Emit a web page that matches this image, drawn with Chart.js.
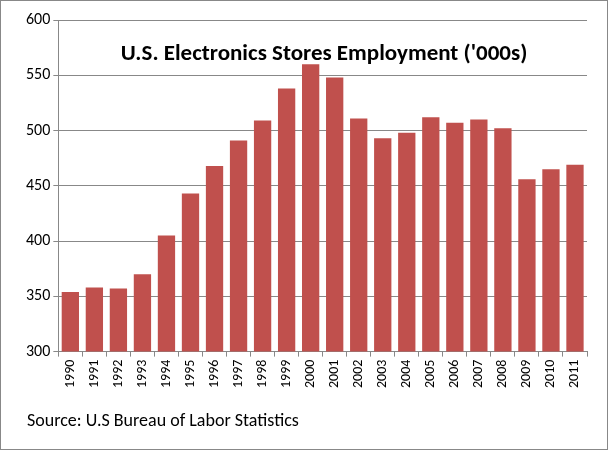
<!DOCTYPE html>
<html><head>
<script src="https://cdn.jsdelivr.net/npm/chart.js"></script>
<style>
body{margin:0;background:#fff;}
#wrap{position:relative;width:606px;height:448px;border:1px solid #888;font-family:Calibri,Carlito,"Liberation Sans",sans-serif;}
#title{position:absolute;left:60px;width:526px;top:37px;text-align:center;font-weight:bold;font-size:23px;color:#000;}
#src{position:absolute;left:26px;top:408px;font-size:18px;color:#000;}
</style></head>
<body>
<div id="wrap">
<canvas id="c" width="606" height="448"></canvas>
<div id="title">U.S. Electronics Stores Employment ('000s)</div>
<div id="src">Source: U.S Bureau of Labor Statistics</div>
</div>
<script>
const years=["1990","1991","1992","1993","1994","1995","1996","1997","1998","1999","2000","2001","2002","2003","2004","2005","2006","2007","2008","2009","2010","2011"];
const employment=[354,358,357,370,405,443,468,491,509,538,560,548,511,493,498,512,507,510,502,456,465,469];
new Chart(document.getElementById('c'),{
type:'bar',
data:{labels:years,datasets:[{data:employment,backgroundColor:'#C0504D',borderWidth:0,categoryPercentage:1,barPercentage:0.72}]},
options:{responsive:false,animation:false,
layout:{padding:{left:22,right:20,top:19,bottom:58}},
plugins:{legend:{display:false},tooltip:{enabled:false}},
scales:{
y:{min:300,max:600,ticks:{stepSize:50,color:'#000',font:{size:16,family:'Carlito, Liberation Sans'}},grid:{color:'#888',tickLength:5},border:{color:'#888'}},
x:{ticks:{color:'#000',minRotation:90,maxRotation:90,font:{size:14,family:'Carlito, Liberation Sans'}},grid:{display:true,drawOnChartArea:false,color:'#888',tickLength:5},border:{color:'#888'}}
}}});
</script>
</body></html>
